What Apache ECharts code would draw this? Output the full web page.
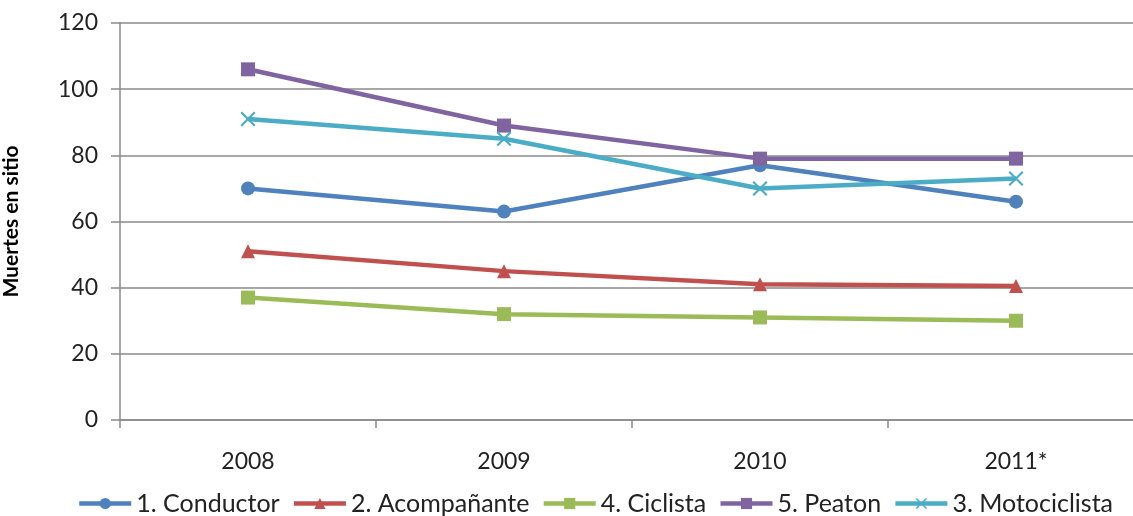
<!DOCTYPE html>
<html>
<head>
<meta charset="utf-8">
<script src="https://cdn.jsdelivr.net/npm/echarts@6/dist/echarts.min.js"></script>
<style>
  html, body { margin: 0; padding: 0; background: #fff; }
  #chart { width: 1133px; height: 516px; }
</style>
</head>
<body>
<div id="chart"></div>
<script>
// Muertes en sitio por tipo de usuario, 2008–2011*
const years = ['2008', '2009', '2010', '2011*'];
const conductor = [70, 63, 77, 66];
const acompanante = [51, 45, 41, 40.5];
const ciclista = [37, 32, 31, 30];
const peaton = [106, 89, 79, 79];
const motociclista = [91, 85, 70, 73];
const yTicks = [0, 20, 40, 60, 80, 100, 120];

const crossSymbol = 'path://M0,1 L1,0 L5,4 L9,0 L10,1 L6,5 L10,9 L9,10 L5,6 L1,10 L0,9 L4,5 Z';
const FONT = 'Lato, "Open Sans", sans-serif';

function lineSeries(name, data, color, symbol, size) {
  return {
    name: name,
    type: 'line',
    data: data,
    symbol: symbol,
    symbolSize: size,
    showAllSymbol: true,
    lineStyle: { width: 4.5, color: color },
    itemStyle: { color: color },
    emphasis: { disabled: true },
    animation: false
  };
}

const chart = echarts.init(document.getElementById('chart'));
chart.setOption({
  backgroundColor: '#ffffff',
  textStyle: { fontFamily: FONT },
  grid: { left: 120, top: 23, width: 1024, height: 397, outerBoundsMode: 'none', containLabel: false },
  legend: {
    bottom: -5,
    left: 72,
    itemWidth: 52,
    itemHeight: 14,
    itemGap: 12,
    lineStyle: { width: 4.5 },
    textStyle: { fontSize: 25, color: '#222', fontFamily: FONT },
    data: ['1. Conductor', '2. Acompañante', '4. Ciclista', '5. Peaton', '3. Motociclista']
  },
  xAxis: {
    type: 'category',
    data: years,
    boundaryGap: true,
    axisLine: { lineStyle: { color: '#8a8a8a', width: 1.5 } },
    axisTick: { show: true, length: 8, lineStyle: { color: '#8a8a8a', width: 1.5 } },
    axisLabel: { fontSize: 23, color: '#222', margin: 30 }
  },
  yAxis: {
    type: 'value',
    min: yTicks[0],
    max: yTicks[yTicks.length - 1],
    interval: 20,
    name: 'Muertes en sitio',
    nameLocation: 'middle',
    nameGap: 98,
    nameTextStyle: { fontSize: 21, fontWeight: 'bold', color: '#000' },
    axisLine: { show: true, lineStyle: { color: '#8a8a8a', width: 1.5 } },
    axisTick: { show: true, length: 9, lineStyle: { color: '#8a8a8a', width: 1.5 } },
    axisLabel: { fontSize: 23, color: '#222', margin: 22 },
    splitLine: { lineStyle: { color: '#8a8a8a', width: 1.5 } }
  },
  series: [
    lineSeries('1. Conductor', conductor, '#4F81BD', 'circle', 14),
    lineSeries('2. Acompañante', acompanante, '#C0504D', 'triangle', 14),
    lineSeries('4. Ciclista', ciclista, '#9BBB59', 'rect', 14),
    lineSeries('5. Peaton', peaton, '#8064A2', 'rect', 14),
    lineSeries('3. Motociclista', motociclista, '#4BACC6', crossSymbol, 15)
  ]
});
</script>
</body>
</html>
